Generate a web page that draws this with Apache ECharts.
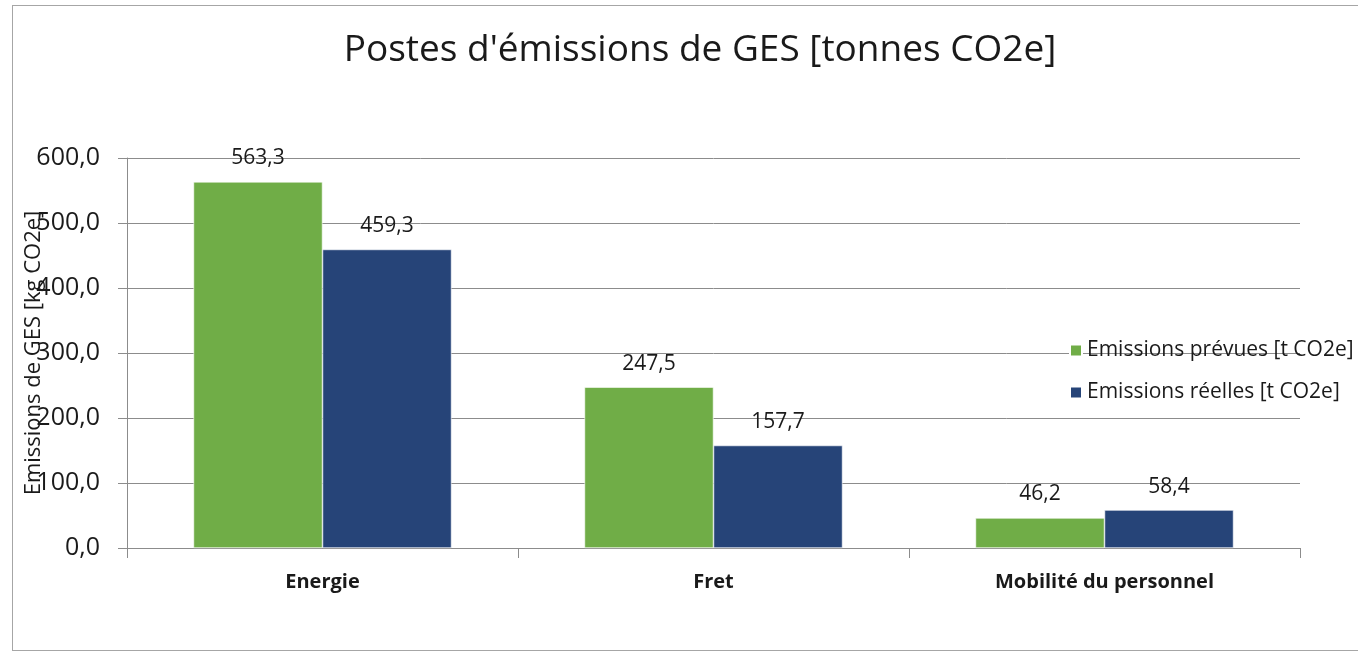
<!DOCTYPE html>
<html>
<head>
<meta charset="utf-8">
<script src="https://cdn.jsdelivr.net/npm/echarts@6/dist/echarts.min.js"></script>
<style>
  html, body { margin: 0; padding: 0; background: #fff; }
  #frame { position: absolute; left: 12px; top: 5px; width: 1400px; height: 646px; border: 1px solid #a6a6a6; box-sizing: border-box; }
  #chart { position: absolute; left: 0; top: 0; width: 1358px; height: 654px; }
</style>
</head>
<body>
<div id="frame"></div>
<div id="chart"></div>
<script>
const categories = ['Energie', 'Fret', 'Mobilité du personnel'];
const prevues = [563.3, 247.5, 46.2];
const reelles = [459.3, 157.7, 58.4];
const seriesNames = ['Emissions prévues [t CO2e]', 'Emissions réelles [t CO2e]'];

const fmt = v => Number(v).toFixed(1).replace('.', ',');
const font = '"Open Sans", "Liberation Sans", sans-serif';

const chart = echarts.init(document.getElementById('chart'));
chart.setOption({
  backgroundColor: 'transparent',
  animation: false,
  title: {
    text: "Postes d'émissions de GES [tonnes CO2e]",
    left: 695, textAlign: 'center', top: 27,
    textStyle: { fontFamily: font, fontSize: 37, fontWeight: 'normal', color: '#1a1a1a' }
  },
  legend: {
    orient: 'vertical', left: 1064, top: 335, itemGap: 21,
    itemWidth: 12, itemHeight: 12, icon: 'rect',
    textStyle: { fontFamily: font, fontSize: 21, color: '#1a1a1a' }
  },
  grid: { left: 127, right: 58, top: 158, bottom: 106, containLabel: false, outerBoundsMode: 'none' },
  xAxis: {
    type: 'category', data: categories,
    axisLine: { lineStyle: { color: '#8c8c8c' } },
    axisTick: { show: true, length: 10, lineStyle: { color: '#8c8c8c' } },
    axisLabel: { margin: 24, fontFamily: font, fontSize: 20, fontWeight: 'bold', color: '#1a1a1a' }
  },
  yAxis: {
    type: 'value', min: 0, max: 600, interval: 100,
    name: 'Emissions de GES [kg CO2e]', nameLocation: 'middle', nameRotate: 90, nameGap: 82,
    nameMoveOverlap: false,
    nameTextStyle: { fontFamily: font, fontSize: 22, color: '#1a1a1a' },
    axisLine: { show: true, lineStyle: { color: '#8c8c8c' } },
    axisTick: { show: true, inside: false, length: 9, lineStyle: { color: '#8c8c8c' } },
    axisLabel: { margin: 27, formatter: fmt, fontFamily: font, fontSize: 25, color: '#1a1a1a' },
    splitLine: { lineStyle: { color: '#8c8c8c' } }
  },
  series: [
    {
      name: seriesNames[0], type: 'bar', data: prevues,
      barGap: '0%', barCategoryGap: '34%',
      itemStyle: { color: '#70ad47', borderColor: '#ffffff', borderWidth: 0.6 },
      label: { show: true, position: 'top', distance: 13, formatter: p => fmt(p.value), fontFamily: font, fontSize: 21, color: '#1a1a1a' }
    },
    {
      name: seriesNames[1], type: 'bar', data: reelles,
      itemStyle: { color: '#264478', borderColor: '#ffffff', borderWidth: 0.6 },
      label: { show: true, position: 'top', distance: 13, formatter: p => fmt(p.value), fontFamily: font, fontSize: 21, color: '#1a1a1a' }
    }
  ]
});
</script>
</body>
</html>
